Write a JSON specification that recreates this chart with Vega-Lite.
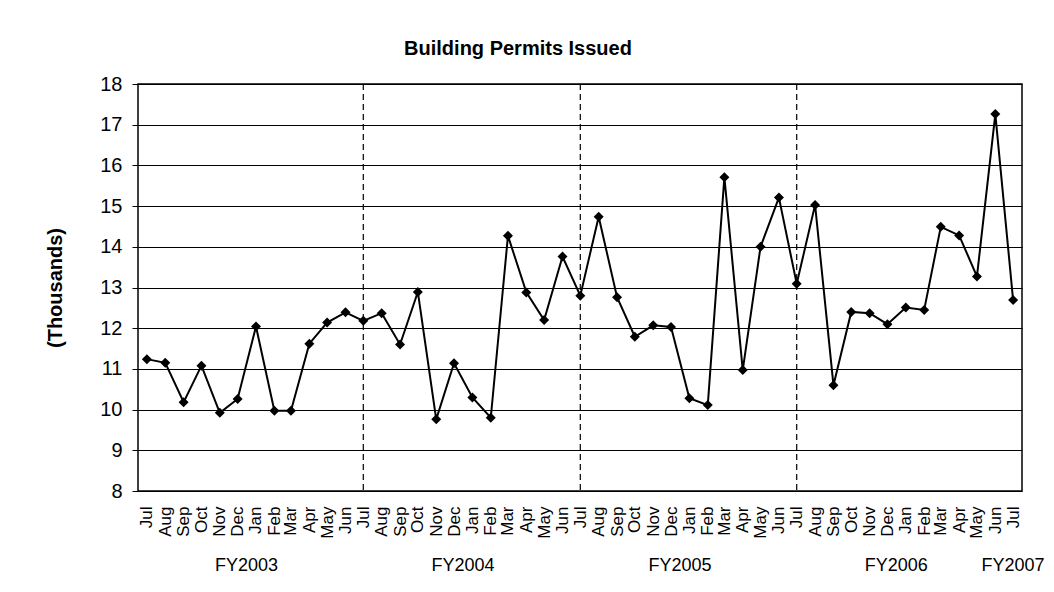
{
  "$schema": "https://vega.github.io/schema/vega-lite/v6.json",
  "width": 884,
  "height": 407,
  "autosize": "none",
  "padding": {"left": 138, "top": 84, "right": 32, "bottom": 101},
  "background": "white",
  "title": {
    "text": "Building Permits Issued",
    "fontSize": 20,
    "fontWeight": "bold",
    "font": "Liberation Sans",
    "color": "black",
    "anchor": "middle",
    "frame": "group",
    "dx": -62,
    "offset": 15
  },
  "config": {
    "view": {"stroke": "black", "strokeWidth": 1.5},
    "font": "Liberation Sans"
  },
  "data": {
    "format": {"parse": {"date": "date"}},
    "values": [
      {"date": "2002/07/01", "fy": "FY2003", "v": 11.24},
      {"date": "2002/08/01", "fy": "FY2003", "v": 11.15},
      {"date": "2002/09/01", "fy": "FY2003", "v": 10.18},
      {"date": "2002/10/01", "fy": "FY2003", "v": 11.08},
      {"date": "2002/11/01", "fy": "FY2003", "v": 9.92},
      {"date": "2002/12/01", "fy": "FY2003", "v": 10.26},
      {"date": "2003/01/01", "fy": "FY2003", "v": 12.04},
      {"date": "2003/02/01", "fy": "FY2003", "v": 9.97},
      {"date": "2003/03/01", "fy": "FY2003", "v": 9.97},
      {"date": "2003/04/01", "fy": "FY2003", "v": 11.62},
      {"date": "2003/05/01", "fy": "FY2003", "v": 12.14},
      {"date": "2003/06/01", "fy": "FY2003", "v": 12.39},
      {"date": "2003/07/01", "fy": "FY2004", "v": 12.18},
      {"date": "2003/08/01", "fy": "FY2004", "v": 12.37},
      {"date": "2003/09/01", "fy": "FY2004", "v": 11.6},
      {"date": "2003/10/01", "fy": "FY2004", "v": 12.89},
      {"date": "2003/11/01", "fy": "FY2004", "v": 9.76},
      {"date": "2003/12/01", "fy": "FY2004", "v": 11.14},
      {"date": "2004/01/01", "fy": "FY2004", "v": 10.3},
      {"date": "2004/02/01", "fy": "FY2004", "v": 9.8},
      {"date": "2004/03/01", "fy": "FY2004", "v": 14.27},
      {"date": "2004/04/01", "fy": "FY2004", "v": 12.88},
      {"date": "2004/05/01", "fy": "FY2004", "v": 12.2},
      {"date": "2004/06/01", "fy": "FY2004", "v": 13.76},
      {"date": "2004/07/01", "fy": "FY2005", "v": 12.8},
      {"date": "2004/08/01", "fy": "FY2005", "v": 14.74},
      {"date": "2004/09/01", "fy": "FY2005", "v": 12.76},
      {"date": "2004/10/01", "fy": "FY2005", "v": 11.79},
      {"date": "2004/11/01", "fy": "FY2005", "v": 12.07},
      {"date": "2004/12/01", "fy": "FY2005", "v": 12.03},
      {"date": "2005/01/01", "fy": "FY2005", "v": 10.28},
      {"date": "2005/02/01", "fy": "FY2005", "v": 10.11},
      {"date": "2005/03/01", "fy": "FY2005", "v": 15.71},
      {"date": "2005/04/01", "fy": "FY2005", "v": 10.97},
      {"date": "2005/05/01", "fy": "FY2005", "v": 14.0},
      {"date": "2005/06/01", "fy": "FY2005", "v": 15.21},
      {"date": "2005/07/01", "fy": "FY2006", "v": 13.09},
      {"date": "2005/08/01", "fy": "FY2006", "v": 15.03},
      {"date": "2005/09/01", "fy": "FY2006", "v": 10.6},
      {"date": "2005/10/01", "fy": "FY2006", "v": 12.4},
      {"date": "2005/11/01", "fy": "FY2006", "v": 12.37},
      {"date": "2005/12/01", "fy": "FY2006", "v": 12.1},
      {"date": "2006/01/01", "fy": "FY2006", "v": 12.51},
      {"date": "2006/02/01", "fy": "FY2006", "v": 12.45},
      {"date": "2006/03/01", "fy": "FY2006", "v": 14.49},
      {"date": "2006/04/01", "fy": "FY2006", "v": 14.28},
      {"date": "2006/05/01", "fy": "FY2006", "v": 13.27},
      {"date": "2006/06/01", "fy": "FY2006", "v": 17.26},
      {"date": "2006/07/01", "fy": "FY2007", "v": 12.69}
    ]
  },
  "encoding": {
    "x": {
      "field": "date",
      "type": "temporal",
      "scale": {
        "domain": [
          {"year": 2002, "month": 6, "date": 16},
          {"year": 2006, "month": 7, "date": 16}
        ],
        "nice": false
      },
      "axis": {
        "title": null,
        "format": "%b",
        "tickCount": {"interval": "month", "step": 1},
        "labelAngle": -90,
        "labelFontSize": 17,
        "labelColor": "black",
        "labelPadding": 15,
        "labelOverlap": false,
        "labelFlush": false,
        "labelBound": false,
        "ticks": false,
        "domain": false,
        "grid": false
      }
    }
  },
  "layer": [
    {
      "transform": [
        {"filter": "month(datum.date) == 6 && datum.fy != 'FY2003' && datum.fy != 'FY2007'"}
      ],
      "mark": {"type": "rule", "color": "black", "strokeWidth": 1.2, "strokeDash": [6, 4]},
      "encoding": {}
    },
    {
      "mark": {"type": "line", "color": "black", "strokeWidth": 2},
      "encoding": {
        "y": {
          "field": "v",
          "type": "quantitative",
          "scale": {"domain": [8, 18], "nice": false, "zero": false},
          "axis": {
            "title": "(Thousands)",
            "titleFontSize": 20,
            "titleFontWeight": "bold",
            "titleColor": "black",
            "titlePadding": 34,
            "labelFontSize": 20,
            "labelColor": "black",
            "labelPadding": 10,
            "tickCount": 10,
            "tickSize": 6,
            "tickColor": "black",
            "domain": false,
            "grid": true,
            "gridColor": "black",
            "gridWidth": 1,
            "gridOpacity": 1
          }
        }
      }
    },
    {
      "mark": {"type": "point", "shape": "diamond", "filled": true, "color": "black", "opacity": 1, "size": 100},
      "encoding": {
        "y": {"field": "v", "type": "quantitative"}
      }
    },
    {
      "transform": [
        {"aggregate": [{"op": "mean", "field": "date", "as": "mid"}], "groupby": ["fy"]}
      ],
      "mark": {"type": "text", "fontSize": 18, "color": "black", "baseline": "middle", "align": "center", "dy": 75},
      "encoding": {
        "x": {"field": "mid", "type": "temporal"},
        "y": {"datum": 8, "type": "quantitative"},
        "text": {"field": "fy"}
      }
    }
  ]
}
